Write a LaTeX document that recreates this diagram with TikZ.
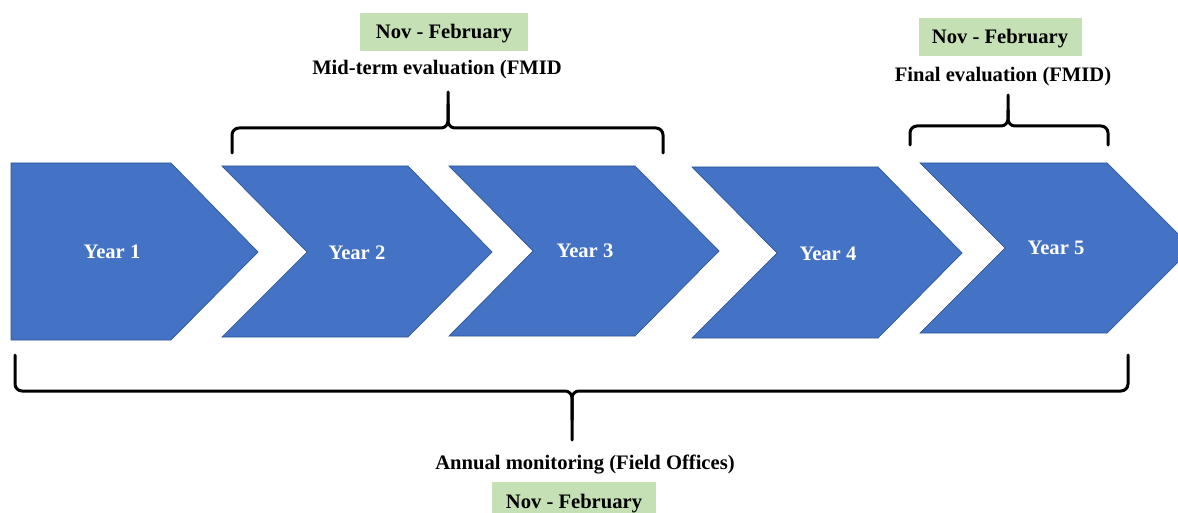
\documentclass[tikz,border=0pt]{standalone}
\usepackage{fontspec}
\setmainfont{Liberation Serif}
\definecolor{chevblue}{HTML}{4472C4}
\definecolor{chevedge}{HTML}{2F5597}
\definecolor{periodgreen}{HTML}{C5E0B4}
\tikzset{
  chev/.style={fill=chevblue, draw=chevedge, line width=0.7pt, line join=miter},
  capcenter/.style={text height=13.6pt, text depth=0pt},
  yearlbl/.style={capcenter, text=white, font=\fontsize{20.6}{24}\selectfont\bfseries, inner sep=0pt},
  evallbl/.style={capcenter, text=black, font=\fontsize{20.6}{24}\selectfont\bfseries, inner sep=0pt},
  periodbox/.style={capcenter, fill=periodgreen, text=black, font=\fontsize{20.6}{24}\selectfont\bfseries, inner sep=0pt, minimum height=38pt},
  bracket/.style={draw=black, line width=3pt, rounded corners=7pt, line cap=round}
}
\begin{document}
\begin{tikzpicture}[x=1pt,y=-1pt]
\useasboundingbox (0,0) rectangle (1178,513);
\clip (0,0) rectangle (1178,513);

% chevrons
\path[chev] (11,163) -- (171,163) -- (258,252) -- (171,340) -- (11,340) -- cycle;
\path[chev] (222,166) -- (408,166) -- (492,252) -- (408,337) -- (222,337) -- (307,252) -- cycle;
\path[chev] (449,166) -- (635,166) -- (719,251) -- (635,336) -- (449,336) -- (533,251) -- cycle;
\path[chev] (692,167) -- (878,167) -- (962,253) -- (878,338) -- (692,338) -- (777,253) -- cycle;
\path[chev] (920,163) -- (1107,163) -- (1192,248) -- (1107,333) -- (920,333) -- (1005,248) -- cycle;

\node[yearlbl] (y1) at (112,252) {Year 1};
\node[yearlbl] (y2) at (357,253) {Year 2};
\node[yearlbl] (y3) at (585,251) {Year 3};
\node[yearlbl] (y4) at (828,254) {Year 4};
\node[yearlbl] (y5) at (1056,248) {Year 5};

% mid-term bracket
\coordinate (m1) at (232,153);
\coordinate (m2) at (663,153);
\coordinate (mtip) at (448,92);
\draw[bracket] (m1) -- (232,128) -- (448,128) -- (mtip);
\draw[bracket] (m2) -- (663,128) -- (448,128) -- (448,104);
\node[evallbl] (midlbl) at (437,68) {Mid-term evaluation (FMID};
\node[periodbox, minimum width=168pt] (midper) at (444,32) {Nov - February};

% final bracket
\coordinate (f1) at (910,145);
\coordinate (f2) at (1108,145);
\coordinate (ftip) at (1008,95);
\draw[bracket] (f1) -- (910,126) -- (1008,126) -- (ftip);
\draw[bracket] (f2) -- (1108,126) -- (1008,126) -- (1008,110);
\node[evallbl] (finlbl) at (1003,75) {Final evaluation (FMID)};
\node[periodbox, minimum width=163pt] (finper) at (1000,37) {Nov - February};

% annual bracket
\coordinate (a1) at (15,355);
\coordinate (a2) at (1128,355);
\coordinate (atip) at (572,440);
\draw[bracket] (a1) -- (15,391) -- (572,391) -- (atip);
\draw[bracket] (a2) -- (1128,391) -- (572,391) -- (572,420);
\node[evallbl] (annlbl) at (585,463) {Annual monitoring (Field Offices)};
\node[periodbox, minimum width=164pt, minimum height=42pt, anchor=north] (annper) at (574,482) {};
\node[evallbl] (annpertext) at (574,502) {Nov - February};
\end{tikzpicture}
\end{document}
